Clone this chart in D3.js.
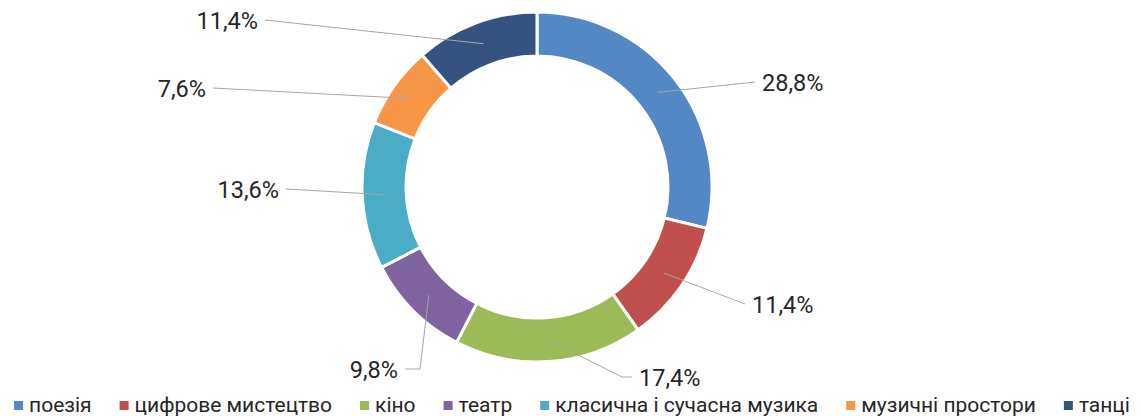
<!DOCTYPE html>
<html>
<head>
<meta charset="utf-8">
<script src="https://cdn.jsdelivr.net/npm/d3@7"></script>
<style>
  body { margin: 0; background: #fff; }
  svg { display: block; font-family: Roboto, "Open Sans", sans-serif; }
</style>
</head>
<body>
<div id="chart"></div>
<script>
/***** data *****/
var categories = ["поезія", "цифрове мистецтво", "кіно", "театр", "класична і сучасна музика", "музичні простори", "танці"];
var shares = [28.8, 11.4, 17.4, 9.8, 13.6, 7.6, 11.4];
var valueLabels = ["28,8%", "11,4%", "17,4%", "9,8%", "13,6%", "7,6%", "11,4%"];
var colors = ["#5488c4", "#c0504d", "#9bbb59", "#8064a2", "#4bacc6", "#f79646", "#345381"];

/***** layout *****/
var width = 1140;
var height = 416;
var cx = 537, cy = 187;
var outerR = 175, innerR = 131;

// where each leader line ends (label sits beside it), plus optional horizontal elbow
var labelEnds = [[755, 82], [745, 304], [632, 377], [405, 369], [286, 189], [213, 88], [265, 20]];
var elbows = [0, 0, 10, -15, 0, 0, 0];

var svg = d3.select("#chart")
  .append("svg")
  .attr("width", width)
  .attr("height", height);

var data = categories.map(function(c, i) {
  return {name: c, value: shares[i], label: valueLabels[i], color: colors[i], i: i};
});

var pie = d3.pie()
  .sort(null)
  .value(function(d) { return d.value; });

var arc = d3.arc()
  .innerRadius(innerR)
  .outerRadius(outerR);

var midArc = d3.arc()
  .innerRadius((innerR + outerR) / 2)
  .outerRadius((innerR + outerR) / 2);

var g = svg.append("g")
  .attr("transform", "translate(" + cx + "," + cy + ")");

var arcs = pie(data);

g.selectAll("path.slice")
  .data(arcs)
  .enter()
  .append("path")
  .attr("class", "slice")
  .attr("d", arc)
  .attr("fill", function(d) { return d.data.color; })
  .attr("stroke", "#fff")
  .attr("stroke-width", 3);

//leader lines
g.selectAll("polyline.leader")
  .data(arcs)
  .enter()
  .append("polyline")
  .attr("class", "leader")
  .attr("fill", "none")
  .attr("stroke", "#a6a6a6")
  .attr("stroke-width", 1)
  .attr("points", function(d) {
    var c = midArc.centroid(d);
    var e = labelEnds[d.data.i];
    var knee = [e[0] - cx - elbows[d.data.i], e[1] - cy];
    return [c, knee, [e[0] - cx, e[1] - cy]].map(function(p) { return p.join(","); }).join(" ");
  });

//value labels
svg.selectAll("text.val")
  .data(arcs)
  .enter()
  .append("text")
  .attr("class", "val")
  .attr("x", function(d) {
    var e = labelEnds[d.data.i];
    return e[0] > cx ? e[0] + 7 : e[0] - 7;
  })
  .attr("y", function(d) { return labelEnds[d.data.i][1] + 1; })
  .attr("dy", "0.35em")
  .attr("text-anchor", function(d) { return labelEnds[d.data.i][0] > cx ? "start" : "end"; })
  .attr("font-size", 23.5)
  .attr("fill", "#262626")
  .text(function(d) { return d.data.label; });

/***** legend *****/
var legend = svg.append("g").attr("class", "legend");
var items = legend.selectAll("g.item")
  .data(data)
  .enter()
  .append("g")
  .attr("class", "item");

items.append("rect")
  .attr("width", 9)
  .attr("height", 9)
  .attr("y", -11)
  .attr("fill", function(d) { return d.color; });

items.append("text")
  .attr("x", 15)
  .attr("font-size", 21)
  .attr("fill", "#262626")
  .text(function(d) { return d.name; });

var gap = 28;
var widths = [];
items.each(function() { widths.push(this.getBBox().width); });
var total = d3.sum(widths) + gap * (widths.length - 1);
var x = 572 - total / 2;
items.attr("transform", function(d, i) {
  var t = "translate(" + x + ",412)";
  x += widths[i] + gap;
  return t;
});
</script>
</body>
</html>
